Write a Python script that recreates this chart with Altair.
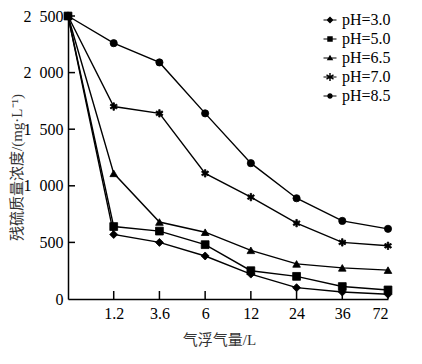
import json
import altair as alt
import pandas as pd

# ---- data ----
x_labels = ["", "1.2", "3.6", "6", "12", "24", "36", "72"]
series_names = ["pH=3.0", "pH=5.0", "pH=6.5", "pH=7.0", "pH=8.5"]
ph30 = [2500, 570, 500, 380, 220, 100, 62, 42]
ph50 = [2500, 640, 600, 480, 250, 200, 110, 80]
ph65 = [2500, 1110, 680, 590, 430, 310, 275, 255]
ph70 = [2500, 1700, 1640, 1110, 900, 670, 500, 470]
ph85 = [2500, 2260, 2090, 1640, 1200, 890, 690, 620]
y_ticks = [0, 500, 1000, 1500, 2000, 2500]

rows = []
for name, vals in zip(series_names, [ph30, ph50, ph65, ph70, ph85]):
    for i, v in enumerate(vals):
        rows.append({"xi": i, "val": v, "ph": name})
df = pd.DataFrame(rows)
xt = pd.DataFrame({"xi": list(range(1, len(x_labels)))})
yt = pd.DataFrame({"val": y_ticks[1:]})

FONT = "Liberation Serif"
TFONT = "Liberation Serif, Noto Sans CJK SC"

# filled-polygon asterisk (6 arms)
asterisk = (
    "M-0.2,-1H0.2V1H-0.2Z"
    "M-0.966,-0.327L-0.766,-0.673L0.966,0.327L0.766,0.673Z"
    "M-0.766,0.673L-0.966,0.327L0.766,-0.673L0.966,-0.327Z"
)
plot_shapes = ["diamond", "square", "triangle-up", asterisk, "circle"]

hline = "M-1,-0.07H1V0.07H-1Z"
legend_shapes = [
    hline + "M-0.55,0L0,-0.55L0.55,0L0,0.55Z",
    hline + "M-0.42,-0.42H0.42V0.42H-0.42Z",
    hline + "M-0.5,0.36L0,-0.5L0.5,0.36Z",
    hline
    + "M-0.11,-0.62H0.11V0.62H-0.11Z"
    + "M-0.592,-0.215L-0.482,-0.405L0.592,0.215L0.482,0.405Z"
    + "M-0.482,0.405L-0.592,0.215L0.482,-0.405L0.592,-0.215Z",
    hline + "M0.42,0A0.42,0.42 0 1,1 -0.42,0A0.42,0.42 0 1,1 0.42,0Z",
]

label_expr_x = json.dumps(x_labels) + "[datum.value]"

xenc = alt.X(
    "xi:Q",
    scale=alt.Scale(domain=[0, 7], nice=False, zero=False),
    axis=alt.Axis(
        values=list(range(1, 8)),
        labelExpr=label_expr_x,
        ticks=False,
        grid=False,
        labelFont=FONT,
        labelFontSize=16,
        labelColor="black",
        labelPadding=6,
        domainColor="black",
        domainWidth=1.5,
        title="气浮气量/L",
        titleFont=TFONT,
        titleFontSize=15,
        titleFontWeight="normal",
        titleColor="#333",
        titleX=151,
        titleY=40,
        titleBaseline="middle",
    ),
)
yenc = alt.Y(
    "val:Q",
    scale=alt.Scale(domain=[0, 2500], nice=False),
    axis=alt.Axis(
        values=y_ticks,
        labelExpr="replace(format(datum.value, ','), ',', '\u2002')",
        ticks=False,
        grid=False,
        labelFont=FONT,
        labelFontSize=16,
        labelColor="black",
        labelPadding=5,
        domainColor="black",
        domainWidth=1.5,
        title="残硫质量浓度/(mg·L⁻¹)",
        titleFont=TFONT,
        titleFontSize=15,
        titleFontWeight="normal",
        titleColor="#333",
        titleAngle=-90,
        titleX=-52,
        titleY=151,
        titleBaseline="middle",
        titleAlign="center",
    ),
)

lines = alt.Chart(df).mark_line(color="black", strokeWidth=1.4).encode(
    x=xenc, y=yenc, detail="ph:N", order="xi:Q"
)
points = alt.Chart(df).mark_point(filled=True, fill="black", stroke="black", strokeWidth=0.8, opacity=1).encode(
    x="xi:Q",
    y="val:Q",
    shape=alt.Shape("ph:N", scale=alt.Scale(domain=series_names, range=plot_shapes), legend=None),
    size=alt.Size("ph:N", scale=alt.Scale(domain=series_names, range=[64, 52, 64, 100, 52]), legend=None),
)
legend_layer = alt.Chart(df).mark_point(filled=True, fill="black", opacity=0).encode(
    x="xi:Q",
    y="val:Q",
    shape=alt.Shape(
        "ph:N",
        scale=alt.Scale(domain=series_names, range=legend_shapes),
        legend=alt.Legend(
            title=None,
            orient="none",
            legendX=254,
            legendY=-4,
            padding=0,
            rowPadding=3,
            symbolSize=169,
            symbolStrokeWidth=0,
            symbolFillColor="black",
            symbolOpacity=1,
            labelFont=FONT,
            labelFontSize=16,
            labelColor="black",
            labelOffset=4,
        ),
    ),
)
yticks = alt.Chart(yt).mark_rule(color="black", strokeWidth=1.5).encode(
    y="val:Q", x=alt.value(0), x2=alt.value(7)
)
xticks = alt.Chart(xt).mark_rule(color="black", strokeWidth=1.5).encode(
    x="xi:Q", y=alt.value(283), y2=alt.value(275)
)

chart = (
    alt.layer(lines, yticks, xticks, points, legend_layer)
    .resolve_scale(shape="independent")
    .properties(
        width=320,
        height=283,
        padding={"left": 60, "top": 8, "right": 20, "bottom": 55},
        autosize=alt.AutoSizeParams(type="none"),
        background="white",
    )
    .configure_view(stroke=None)
)

chart.save("out.html", embed_options={"renderer": "svg", "actions": False})
